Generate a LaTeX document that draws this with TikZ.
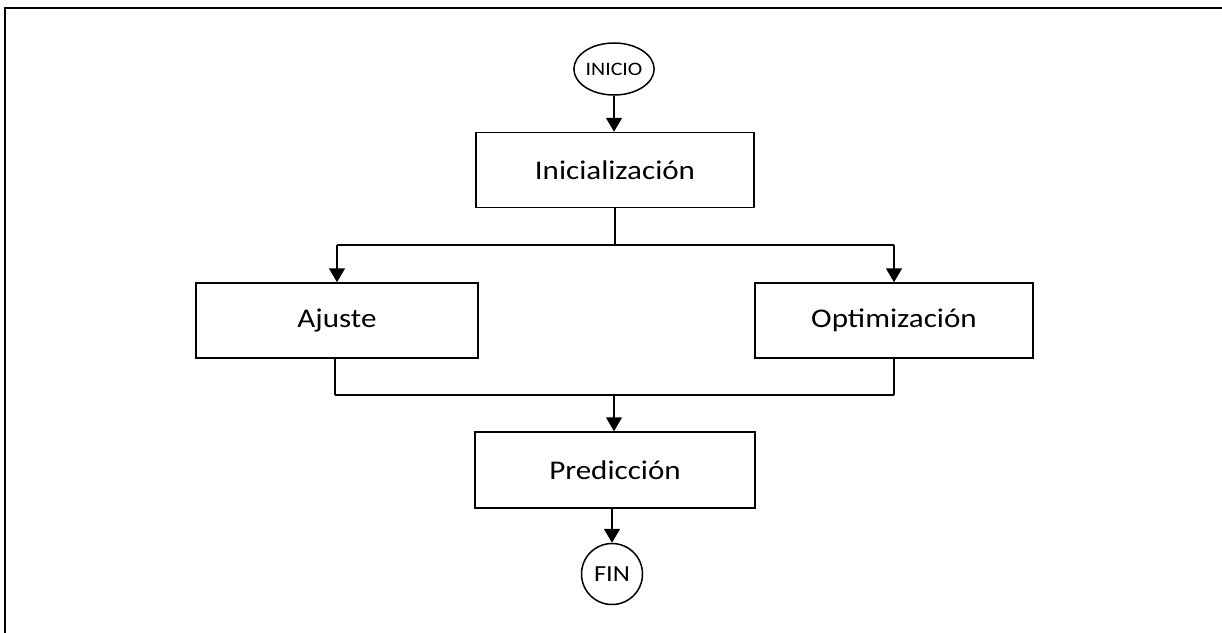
\documentclass[tikz,border=0pt]{standalone}
\usepackage{fontspec}
\setmainfont{Carlito}
\newfontfamily\labelfont[FakeStretch=1.15]{Carlito}
\usetikzlibrary{arrows.meta,shapes.geometric}

\tikzset{
  stepbox/.style={draw, line width=1.5pt, rectangle, minimum width=280pt, minimum height=75pt,
                  font=\labelfont\fontsize{27}{30}\selectfont, inner sep=0pt},
  terminal/.style={draw, line width=1.5pt, inner sep=0pt},
  flow/.style={line width=1.5pt, -{Triangle[width=16pt,length=14pt]}},
  link/.style={line width=1.5pt},
}

\begin{document}
\begin{tikzpicture}[x=1pt,y=-1pt]
  \useasboundingbox (0,0) rectangle (1222,632);
  % outer frame, running past the right and bottom edges
  \begin{scope}
    \clip (0,0) rectangle (1222,632);
    \draw[line width=1.8pt] (5,8) rectangle (1240,650);
  \end{scope}

  % terminals
  \node[terminal, ellipse, minimum width=78pt, minimum height=52pt,
        font=\labelfont\fontsize{19}{22}\selectfont] (inicio) at (614,69) {INICIO};
  \node[terminal, circle, minimum size=61pt,
        font=\labelfont\fontsize{23}{26}\selectfont] (fin) at (612,574) {FIN};

  % process steps
  \node[stepbox, minimum width=278pt] (ini) at (615,170) {Inicialización};
  \node[stepbox, minimum width=282pt] (aj) at (337,320.5) {Ajuste};
  \node[stepbox, minimum width=278pt] (opt) at (894,320.5) {Optimización};
  \node[stepbox, minimum width=280pt, minimum height=76pt] (pred) at (615,470) {Predicción};

  % branch and merge points
  \coordinate (split) at (615,245);
  \coordinate (sl) at (337,245);
  \coordinate (sr) at (894,245);
  \coordinate (ml) at (335,395);
  \coordinate (mr) at (894,395);
  \coordinate (merge) at (614,395);

  % connectors
  \draw[flow] (inicio) -- (inicio.south |- ini.north);
  \draw[link] (ini.south) -- (split);
  \draw[link] (sl) -- (sr);
  \draw[flow] (sl) -- (aj.north);
  \draw[flow] (sr) -- (opt.north);
  \draw[link] (aj.south -| ml) -- (ml);
  \draw[link] (opt.south) -- (mr);
  \draw[link] (ml) -- (mr);
  \draw[flow] (merge) -- (merge |- pred.north);
  \draw[flow] (pred.south -| fin) -- (fin.north);
\end{tikzpicture}
\end{document}
